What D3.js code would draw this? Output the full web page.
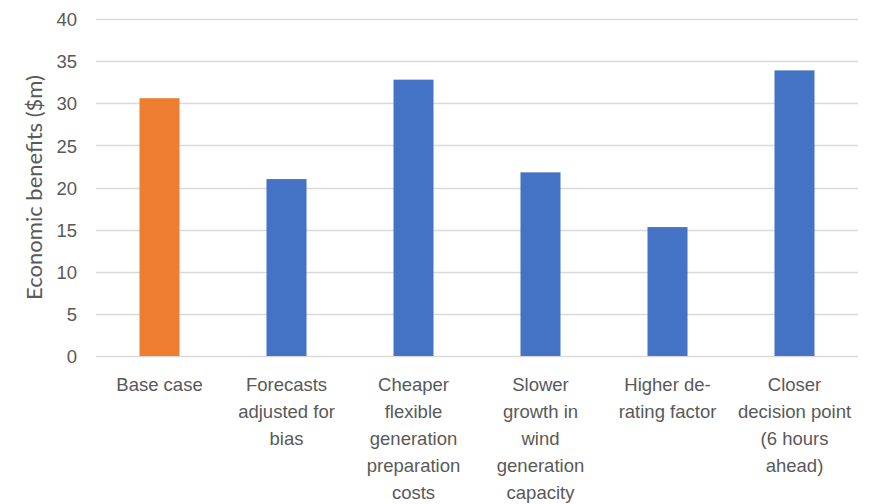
<!DOCTYPE html>
<html>
<head>
<meta charset="utf-8">
<script src="https://cdn.jsdelivr.net/npm/d3@7"></script>
<style>
  html, body { margin: 0; padding: 0; background: #fff; }
  svg { display: block; font-family: Lato, "Open Sans", sans-serif; }
</style>
</head>
<body>
<svg id="chart" width="872" height="504"></svg>
<script>
// Scenario categories (line breaks mark how each label wraps)
const categories = [
  "Base case",
  "Forecasts\nadjusted for\nbias",
  "Cheaper\nflexible\ngeneration\npreparation\ncosts",
  "Slower\ngrowth in\nwind\ngeneration\ncapacity",
  "Higher de-\nrating factor",
  "Closer\ndecision point\n(6 hours\nahead)"
];
// Economic benefits, $m
const benefits = [30.6, 21.0, 32.8, 21.8, 15.3, 33.9];
const yTicks = [0, 5, 10, 15, 20, 25, 30, 35, 40];
const yTitle = "Economic benefits ($m)";

const svg = d3.select("#chart");
const margin = { left: 96, right: 14, top: 19, bottom: 148 };
const W = 872, H = 504;
const textColor = "#595959";

const x = d3.scaleBand()
  .domain(categories)
  .range([margin.left, W - margin.right])
  .paddingInner(0.685)
  .paddingOuter(0.3425);

const y = d3.scaleLinear()
  .domain([0, 40])
  .range([H - margin.bottom, margin.top]);

// Horizontal gridlines
svg.append("g")
  .selectAll("line")
  .data(yTicks)
  .join("line")
  .attr("x1", margin.left)
  .attr("x2", W - margin.right)
  .attr("y1", d => Math.round(y(d)) + 0.5)
  .attr("y2", d => Math.round(y(d)) + 0.5)
  .attr("stroke", "#d9d9d9")
  .attr("stroke-width", 1.3);

// Y axis tick labels
const yAxis = d3.axisLeft(y).tickValues(yTicks).tickSize(0).tickPadding(0);
const gy = svg.append("g")
  .attr("transform", `translate(${margin.left - 19},0)`)
  .call(yAxis);
gy.select(".domain").remove();
gy.selectAll("text")
  .attr("fill", textColor)
  .style("font-size", "18.5px")
  .attr("dy", "0.36em");

// Bars
svg.append("g")
  .selectAll("rect")
  .data(categories)
  .join("rect")
  .attr("x", d => x(d))
  .attr("width", x.bandwidth())
  .attr("y", (d, i) => y(benefits[i]))
  .attr("height", (d, i) => y(0) - y(benefits[i]))
  .attr("fill", (d, i) => i === 0 ? "#ed7d31" : "#4472c4");

// X axis category labels
const xAxis = d3.axisBottom(x).tickSize(0).tickFormat("");
const gx = svg.append("g")
  .attr("transform", `translate(0,${y(0)})`)
  .call(xAxis);
gx.select(".domain").remove();
gx.selectAll(".tick").each(function (d) {
  const t = d3.select(this).append("text")
    .attr("text-anchor", "middle")
    .attr("fill", textColor)
    .style("font-size", "18.5px");
  d.split("\n").forEach((line, i) => {
    t.append("tspan")
      .attr("x", 0)
      .attr("y", 35 + i * 27)
      .text(line);
  });
});

// Y axis title
svg.append("text")
  .attr("transform", `translate(42,${(y(0) + y(40)) / 2}) rotate(-90)`)
  .attr("text-anchor", "middle")
  .attr("fill", textColor)
  .style("font-size", "22px")
  .text(yTitle);
</script>
</body>
</html>
